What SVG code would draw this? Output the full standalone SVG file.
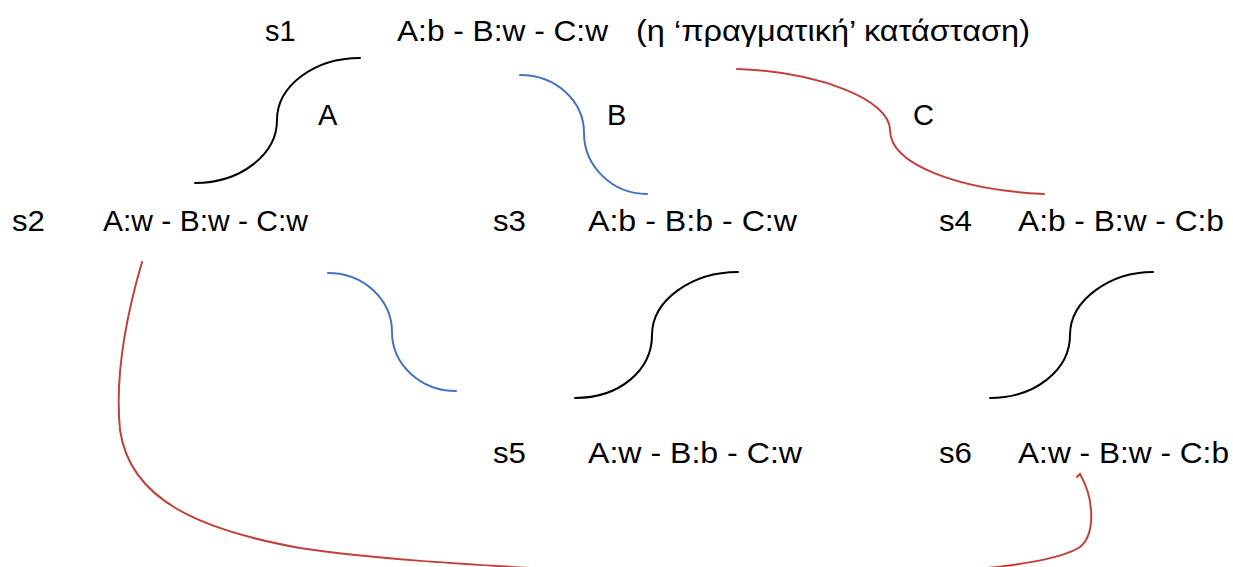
<svg xmlns="http://www.w3.org/2000/svg" width="1233" height="567" viewBox="0 0 1233 567">
<style>
text{font-family:"Liberation Sans",Arial,sans-serif;font-size:29px;fill:#000}
.c{fill:none;stroke-width:2;stroke-linecap:round}
.k{stroke:#000}
.b{stroke:#4472C4}
.r{stroke:#C0413C}
</style>
<rect width="1233" height="567" fill="#fff"/>
<g id="connectors">
<path class="c k" d="M360,58 C314,58 277,86 277,120 C277,155 240,183 195,183"/>
<path class="c b" d="M520,75 C556,75 584,101 584,133 C584,166 612,194 647,194"/>
<path class="c r" d="M737,69 C820,72 890,100 890,130 C890,165 960,190 1044,194"/>
<path class="c b" d="M328,273 C364,273 392,300 392,332 C392,364 420,391 456,391"/>
<path class="c k" d="M738,272 C692,272 652,300 652,335 C652,370 620,398 575,398"/>
<path class="c k" d="M1153,272 C1110,272 1070,300 1070,335 C1070,370 1035,398 990,398"/>
<path class="c r" d="M142,262 C125,320 115,380 120,430 C130,500 200,530 300,548 C380,560 480,565 565,570 L967,570 C1010,566 1060,560 1080,547 C1095,535 1095,500 1080,474 L1077,477"/>
</g>
<g id="edge-labels">
<text x="318" y="125">A</text>
<text x="607" y="125">B</text>
<text x="913" y="125">C</text>
</g>
<g id="s1"><text x="265" y="41">s1</text><text x="397" y="41" textLength="211" lengthAdjust="spacingAndGlyphs">A:b - B:w - C:w</text><text x="636" y="41" textLength="394" lengthAdjust="spacingAndGlyphs">(η ‘πραγματική’ κατάσταση)</text></g>
<g id="s2"><text x="12" y="231" textLength="33" lengthAdjust="spacingAndGlyphs">s2</text><text x="103" y="231" textLength="205" lengthAdjust="spacingAndGlyphs">A:w - B:w - C:w</text></g>
<g id="s3"><text x="493" y="231" textLength="33" lengthAdjust="spacingAndGlyphs">s3</text><text x="588" y="231" textLength="209" lengthAdjust="spacingAndGlyphs">A:b - B:b - C:w</text></g>
<g id="s4"><text x="939" y="231" textLength="33" lengthAdjust="spacingAndGlyphs">s4</text><text x="1018" y="231" textLength="206" lengthAdjust="spacingAndGlyphs">A:b - B:w - C:b</text></g>
<g id="s5"><text x="493" y="463" textLength="33" lengthAdjust="spacingAndGlyphs">s5</text><text x="588" y="463" textLength="214" lengthAdjust="spacingAndGlyphs">A:w - B:b - C:w</text></g>
<g id="s6"><text x="939" y="463" textLength="33" lengthAdjust="spacingAndGlyphs">s6</text><text x="1018" y="463" textLength="211" lengthAdjust="spacingAndGlyphs">A:w - B:w - C:b</text></g>
</svg>
